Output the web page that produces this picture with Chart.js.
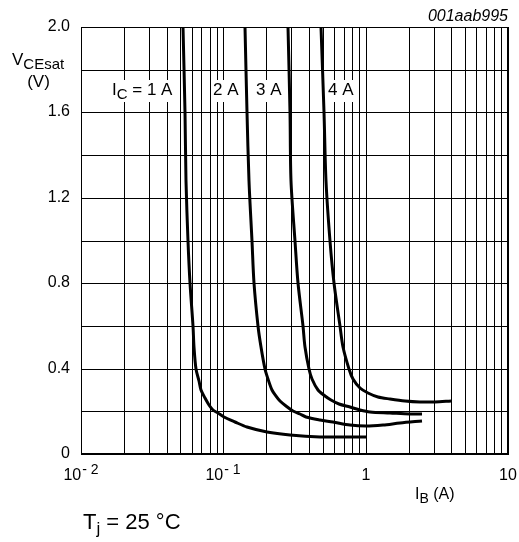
<!DOCTYPE html>
<html><head><meta charset="utf-8">
<script src="https://cdn.jsdelivr.net/npm/chart.js@4/dist/chart.umd.min.js"></script>
<style>html,body{margin:0;padding:0;background:#fff}canvas{display:block}</style>
</head><body>
<canvas id="c" width="519" height="542"></canvas>
<script>
// ---- data ----
const ibIc1A = [0.05223, 0.05368, 0.0551, 0.0569, 0.05867, 0.0609, 0.06239, 0.06464, 0.06731, 0.06985, 0.07416, 0.07909, 0.08508, 0.0915, 0.1008, 0.1204, 0.1455, 0.2011, 0.2929, 0.4748, 0.7122, 1.0];
const vIc1A  = [2.0,     1.6,     1.28,   1.0,    0.8,     0.6,    0.5,     0.4,     0.34,    0.3,     0.26,    0.23,    0.206,   0.19,   0.172,  0.148,  0.128,  0.104,  0.089,  0.081,  0.078,  0.078];

const ibIc2A = [0.1416, 0.1457, 0.151, 0.1585, 0.1653, 0.1746, 0.1827, 0.1949, 0.2046, 0.219, 0.2336, 0.2492, 0.2746, 0.3098, 0.3442, 0.3836, 0.4748, 0.5896, 0.7722, 1.0,  1.316, 1.733, 2.5];
const vIc2A  = [2.0,    1.6,    1.28,  1.0,    0.8,    0.6,    0.5,    0.4,    0.35,   0.3,   0.27,   0.25,   0.225,  0.2,    0.186,  0.175,  0.16,   0.148,  0.138,  0.13, 0.134, 0.143, 0.156];

const ibIc3A = [0.285, 0.2924, 0.3011, 0.3176, 0.335, 0.3601, 0.3761, 0.3981, 0.4212, 0.4642, 0.5157, 0.5682, 0.6464, 0.7722, 0.9076, 1.067, 1.474, 2.036, 2.5];
const vIc3A  = [2.0,   1.6,    1.28,   1.0,    0.8,   0.6,    0.5,    0.4,    0.35,   0.3,    0.27,   0.253,  0.235,  0.219,  0.207,  0.198, 0.19,  0.187, 0.187];

const ibIc4A = [0.4887, 0.5057, 0.5257, 0.5607, 0.601, 0.659, 0.6985, 0.76, 0.8174, 0.9076, 1.033, 1.214, 1.474, 1.878, 2.393, 3.049, 4.0];
const vIc4A  = [2.0,    1.6,    1.28,   1.0,    0.8,   0.6,   0.5,    0.4,  0.35,   0.31,   0.285, 0.268, 0.257, 0.249, 0.245, 0.245, 0.25];

const seriesNames = ['I_{C} = 1 A', '2 A', '3 A', '4 A'];

const xTickValues = [0.01, 0.1, 1, 10];
const xTickBase   = ['10', '10', '1', '10'];
const xTickExp    = ['-2', '-1', '', ''];
const yTickLabels = ['0', '0.4', '0.8', '1.2', '1.6', '2.0'];

const xAxisTitle = 'I_{B} (A)';
const yAxisTitle = 'V_{CEsat}';
const yAxisUnit  = '(V)';
const noteText   = 'T_{j} = 25 °C';
const figureId   = '001aab995';

// ---- presentation ----
const FONT = '"Liberation Sans", Arial, Helvetica, sans-serif';
const labelAnchors = [[0.01642, 1.68], [0.0843, 1.68], [0.169, 1.68], [0.541, 1.68]];

function parts(str) {
  const out = []; const re = /_\{([^}]*)\}/g; let last = 0, m;
  while ((m = re.exec(str))) {
    if (m.index > last) out.push({t: str.slice(last, m.index), sub: false});
    out.push({t: m[1], sub: true}); last = re.lastIndex;
  }
  if (last < str.length) out.push({t: str.slice(last), sub: false});
  return out;
}
function measureRich(ctx, str, size, subSize) {
  let w = 0;
  for (const p of parts(str)) { ctx.font = (p.sub ? subSize : size) + 'px ' + FONT; w += ctx.measureText(p.t).width; }
  return w;
}
function drawRich(ctx, str, x, y, size, subSize, drop) {
  ctx.textAlign = 'left'; ctx.textBaseline = 'alphabetic'; ctx.fillStyle = '#000';
  for (const p of parts(str)) {
    ctx.font = (p.sub ? subSize : size) + 'px ' + FONT;
    ctx.fillText(p.t, x, p.sub ? y + drop : y);
    x += ctx.measureText(p.t).width;
  }
  return x;
}

const gridX = [];
for (let e = -2; e <= 0; e++) for (let m = 1; m <= 9; m++) gridX.push(m * Math.pow(10, e));
gridX.push(10);

const textPlugin = {
  id: 'texts',
  beforeDatasetsDraw(chart) {
    const ctx = chart.ctx, xs = chart.scales.x, ys = chart.scales.y;
    ctx.save();
    seriesNames.forEach((name, i) => {
      const px = xs.getPixelForValue(labelAnchors[i][0]);
      const py = ys.getPixelForValue(labelAnchors[i][1]);
      const w = measureRich(ctx, name, 17, 15);
      ctx.fillStyle = '#fff';
      ctx.fillRect(px - 2, py - 15, w + 4, 22);
      drawRich(ctx, name, px, py, 17, 15, 4);
    });
    ctx.restore();
  },
  afterDraw(chart) {
    const ctx = chart.ctx, xs = chart.scales.x, a = chart.chartArea;
    ctx.save();
    ctx.strokeStyle = '#000'; ctx.lineWidth = 1;
    ctx.strokeRect(Math.round(a.left) + 0.5, Math.round(a.top) + 0.5, Math.round(a.right - a.left) - 1, Math.round(a.bottom - a.top) - 1);
    ctx.fillStyle = '#000'; ctx.textBaseline = 'alphabetic'; ctx.textAlign = 'left';
    xTickValues.forEach((v, i) => {
      const px = xs.getPixelForValue(v);
      ctx.font = '16px ' + FONT; const wb = ctx.measureText(xTickBase[i]).width;
      let we = 0;
      const ex = xTickExp[i].replace('-', '- ');
      if (xTickExp[i]) { ctx.font = '14px ' + FONT; we = ctx.measureText(ex).width + 1; }
      const x0 = px - (wb + we) / 2;
      ctx.font = '16px ' + FONT; ctx.fillText(xTickBase[i], x0, a.bottom + 26);
      if (xTickExp[i]) { ctx.font = '14px ' + FONT; ctx.fillText(ex, x0 + wb + 1, a.bottom + 20); }
    });
    drawRich(ctx, xAxisTitle, 415, a.bottom + 45, 16, 14, 4);
    drawRich(ctx, yAxisTitle, 12, 65, 17, 15, 4);
    ctx.font = '17px ' + FONT; ctx.textAlign = 'center';
    ctx.fillText(yAxisUnit, 38.5, 87);
    drawRich(ctx, noteText, 83, 529, 22, 17, 5);
    ctx.font = 'italic 16px ' + FONT; ctx.textAlign = 'right';
    ctx.fillText(figureId, a.right, 21);
    ctx.restore();
  }
};

function series(xs, ys) { return xs.map((x, i) => ({x, y: ys[i]})); }
const allSeries = [[ibIc1A, vIc1A], [ibIc2A, vIc2A], [ibIc3A, vIc3A], [ibIc4A, vIc4A]];

new Chart(document.getElementById('c'), {
  type: 'line',
  data: {
    datasets: allSeries.map((s, i) => ({
      label: seriesNames[i],
      data: series(s[0], s[1]),
      borderColor: '#000', borderWidth: 3, pointRadius: 0,
      tension: 0.3, fill: false, borderCapStyle: 'butt', borderJoinStyle: 'round'
    }))
  },
  options: {
    responsive: false, animation: false, devicePixelRatio: 1,
    layout: { padding: { left: 0, top: 27, right: 11, bottom: 0 } },
    plugins: { legend: { display: false }, tooltip: { enabled: false } },
    scales: {
      x: {
        type: 'logarithmic', min: 0.01, max: 10, alignToPixels: true,
        afterBuildTicks: (sc) => { sc.ticks = gridX.map(v => ({value: v})); },
        afterFit: (sc) => { sc.height = 88; },
        ticks: { display: false, autoSkip: false },
        grid: { color: '#000', lineWidth: 1, drawTicks: false },
        border: { display: true, color: '#000', width: 1 }
      },
      y: {
        min: 0, max: 2, alignToPixels: true,
        afterFit: (sc) => { sc.width = 81; },
        ticks: {
          stepSize: 0.2, autoSkip: false, padding: 11, color: '#000',
          font: { family: FONT, size: 16 },
          callback: (v, i) => (i % 2 === 0 ? yTickLabels[i / 2] : '')
        },
        grid: { color: '#000', lineWidth: 1, drawTicks: false },
        border: { display: true, color: '#000', width: 1 }
      }
    }
  },
  plugins: [textPlugin]
});
</script>
</body></html>
